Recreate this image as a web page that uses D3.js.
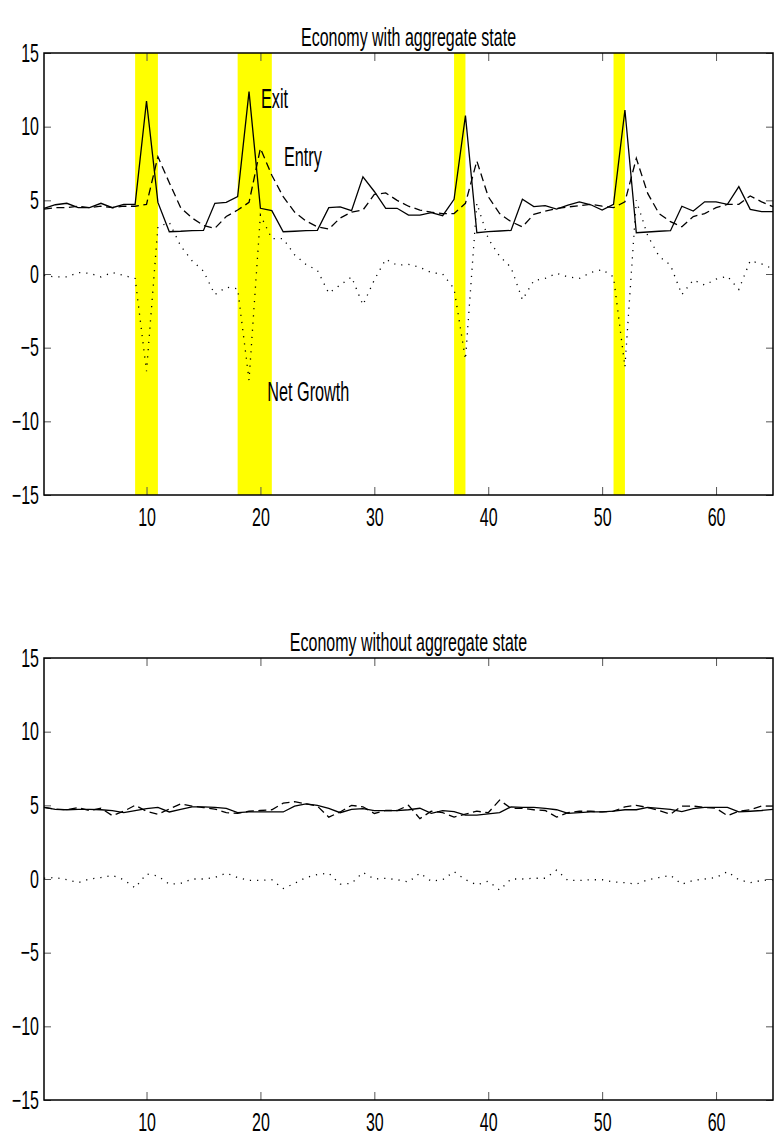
<!DOCTYPE html>
<html>
<head>
<meta charset="utf-8">
<script src="https://cdn.jsdelivr.net/npm/d3@7"></script>
<style>
  body { margin: 0; background: #fff; }
  text { font-family: "Liberation Sans", Arial, sans-serif; fill: #000; }
</style>
</head>
<body>
<div id="chart"></div>
<script>
// periods on the x axis
const periods = d3.range(1, 66);

// Economy with aggregate state
const exitWith = [4.46, 4.7, 4.8, 4.5, 4.5, 4.8, 4.5, 4.73, 4.73, 11.74,
  4.86, 2.87, 2.9, 2.95, 2.96, 4.8, 4.86, 5.25, 12.38, 4.46,
  4.3, 2.87, 2.9, 2.94, 2.96, 4.5, 4.55, 4.3, 6.6, 5.6,
  4.46, 4.46, 4.0, 4.0, 4.16, 3.96, 5.07, 10.75, 2.8, 2.87,
  2.92, 2.96, 5.07, 4.57, 4.64, 4.41, 4.68, 4.9, 4.7, 4.34,
  4.73, 11.13, 2.8, 2.85, 2.9, 2.94, 4.6, 4.27, 4.9, 4.9,
  4.73, 5.93, 4.39, 4.23, 4.23];
const entryWith = [4.4, 4.5, 4.5, 4.6, 4.5, 4.6, 4.5, 4.6, 4.6, 4.73,
  7.96, 6.2, 4.5, 3.8, 3.3, 3.1, 3.9, 4.34, 4.86, 8.53,
  6.7, 5.25, 4.2, 3.6, 3.2, 3.05, 3.8, 4.2, 4.34, 5.4,
  5.5, 5.0, 4.6, 4.34, 4.2, 4.1, 4.1, 4.8, 7.67, 5.25,
  4.1, 3.55, 3.2, 4.05, 4.27, 4.45, 4.55, 4.64, 4.73, 4.6,
  4.5, 4.9, 7.85, 5.47, 4.1, 3.55, 3.2, 3.9, 4.1, 4.5,
  4.73, 4.73, 5.3, 4.9, 4.57];
const netWith = [-0.1, -0.2, -0.2, 0.1, 0.05, -0.2, 0.1, -0.1, -0.3, -6.6,
  3.2, 3.5, 1.9, 0.9, 0.2, -1.4, -0.9, -1.0, -7.2, 4.0,
  2.4, 2.4, 1.3, 0.65, 0.25, -1.3, -0.75, -0.2, -2.1, -0.4,
  1.0, 0.6, 0.65, 0.45, 0.1, 0.0, -1.0, -5.8, 4.8, 2.4,
  1.2, 0.45, -1.75, -0.45, -0.3, 0.05, -0.2, -0.3, 0.1, 0.3,
  -0.2, -6.3, 5.0, 2.6, 1.2, 0.6, -1.4, -0.4, -0.75, -0.35,
  -0.15, -1.05, 0.9, 0.68, 0.35];

// Economy without aggregate state
const exitWithout = [4.86, 4.73, 4.7, 4.73, 4.73, 4.7, 4.64, 4.5, 4.64, 4.77,
  4.86, 4.55, 4.73, 4.9, 4.9, 4.86, 4.8, 4.5, 4.55, 4.55,
  4.55, 4.55, 4.95, 5.1, 5.0, 4.8, 4.5, 4.73, 4.77, 4.64,
  4.64, 4.64, 4.7, 4.8, 4.45, 4.64, 4.57, 4.34, 4.34, 4.42,
  4.5, 4.9, 4.86, 4.86, 4.8, 4.7, 4.45, 4.5, 4.55, 4.55,
  4.6, 4.7, 4.7, 4.86, 4.8, 4.73, 4.57, 4.77, 4.86, 4.86,
  4.86, 4.55, 4.6, 4.65, 4.73];
const entryWithout = [4.86, 4.75, 4.7, 4.85, 4.65, 4.8, 4.3, 4.6, 5.0, 4.6,
  4.4, 4.75, 5.1, 4.95, 4.85, 4.75, 4.5, 4.45, 4.6, 4.65,
  4.7, 5.15, 5.25, 5.1, 4.95, 4.2, 4.55, 5.0, 4.9, 4.45,
  4.65, 4.65, 5.0, 4.1, 4.6, 4.5, 4.2, 4.4, 4.6, 4.5,
  5.35, 4.8, 4.8, 4.7, 4.65, 4.2, 4.5, 4.6, 4.6, 4.55,
  4.6, 4.9, 5.0, 4.85, 4.65, 4.4, 4.95, 4.95, 4.85, 4.8,
  4.3, 4.6, 4.7, 4.95, 4.95];
const netWithout = [0.05, 0.1, -0.05, -0.25, 0.0, 0.1, 0.25, -0.05, -0.6, 0.35,
  0.2, -0.35, -0.3, 0.0, 0.0, 0.1, 0.4, 0.1, -0.1, -0.1,
  -0.05, -0.65, -0.3, 0.1, 0.3, 0.4, -0.35, -0.3, 0.45, 0.0,
  0.05, -0.05, -0.2, 0.4, -0.15, -0.05, 0.5, -0.05, -0.4, -0.15,
  -0.75, 0.0, 0.0, 0.05, 0.05, 0.6, -0.1, -0.1, -0.05, -0.05,
  -0.2, -0.25, -0.35, -0.05, 0.1, 0.25, -0.35, -0.1, 0.0, 0.1,
  0.5, -0.05, -0.25, -0.1, -0.05];

// shaded periods (start, end)
const shadedPeriods = [[9, 11], [18, 21], [37, 38], [51, 52]];

const yTicks = [-15, -10, -5, 0, 5, 10, 15];
const xTicks = [10, 20, 30, 40, 50, 60];

const seriesLabels = [
  {text: "Exit", x: 20.05, y: 11.3},
  {text: "Entry", x: 22.07, y: 7.33},
  {text: "Net Growth", x: 20.6, y: -8.6}
];

const width = 779, height = 1145;
const left = 44, right = 773;
const squeeze = 0.64;   // the original font is rendered narrow

const svg = d3.select("#chart").append("svg")
  .attr("width", width)
  .attr("height", height);

function panel(top, bottom, title, exit, entry, net, shades, labels) {
  const x = d3.scaleLinear([1, 65], [left, right]);
  const y = d3.scaleLinear([-15, 15], [bottom, top]);
  const g = svg.append("g");

  // yellow bands
  g.selectAll("rect.band").data(shades).join("rect")
    .attr("class", "band")
    .attr("x", d => x(d[0]))
    .attr("width", d => x(d[1]) - x(d[0]))
    .attr("y", top)
    .attr("height", bottom - top)
    .attr("fill", "#ffff00");

  const line = d3.line()
    .x((d, i) => x(periods[i]))
    .y(d => y(d));

  g.append("path").attr("d", line(net))
    .attr("fill", "none").attr("stroke", "#000")
    .attr("stroke-width", 1.3).attr("stroke-dasharray", "1.2,6");
  g.append("path").attr("d", line(entry))
    .attr("fill", "none").attr("stroke", "#000")
    .attr("stroke-width", 1.3).attr("stroke-dasharray", "8,4.5");
  g.append("path").attr("d", line(exit))
    .attr("fill", "none").attr("stroke", "#000")
    .attr("stroke-width", 1.3);

  // axes, ticks pointing inwards
  g.append("g")
    .attr("transform", `translate(${left},0)`)
    .call(d3.axisLeft(y).tickValues(yTicks).tickSizeInner(-7).tickSizeOuter(0)
      .tickPadding(5 / squeeze).tickFormat(d3.format("d")))
    .call(a => a.select(".domain").remove());
  g.append("g")
    .attr("transform", `translate(${right},0)`)
    .call(d3.axisRight(y).tickValues(yTicks).tickSizeInner(-7).tickSizeOuter(0).tickFormat(""))
    .call(a => a.select(".domain").remove());
  g.append("g")
    .attr("transform", `translate(0,${bottom})`)
    .call(d3.axisBottom(x).tickValues(xTicks).tickSizeInner(-8).tickSizeOuter(0)
      .tickPadding(13).tickFormat(d3.format("d")))
    .call(a => a.select(".domain").remove());
  g.append("g")
    .attr("transform", `translate(0,${top})`)
    .call(d3.axisTop(x).tickValues(xTicks).tickSizeInner(-8).tickSizeOuter(0).tickFormat(""))
    .call(a => a.select(".domain").remove());

  g.selectAll(".tick line").attr("stroke", "#555").attr("stroke-width", 1);
  g.selectAll(".tick text")
    .attr("font-size", 25)
    .attr("font-family", "Liberation Sans, Arial, sans-serif")
    .attr("transform", `scale(${squeeze},1)`);

  // box
  g.append("rect")
    .attr("x", left).attr("y", top)
    .attr("width", right - left).attr("height", bottom - top)
    .attr("fill", "none").attr("stroke", "#000").attr("stroke-width", 1.5);

  g.append("text")
    .attr("transform", `translate(${(left + right) / 2},${top - 7}) scale(${squeeze},1)`)
    .attr("text-anchor", "middle")
    .attr("font-size", 25)
    .text(title);

  g.selectAll("text.note").data(labels).join("text")
    .attr("class", "note")
    .attr("transform", d => `translate(${x(d.x)},${y(d.y)}) scale(0.58,1)`)
    .attr("font-size", 28)
    .text(d => d.text);
}

panel(53, 495, "Economy with aggregate state",
  exitWith, entryWith, netWith, shadedPeriods, seriesLabels);
panel(658, 1100, "Economy without aggregate state",
  exitWithout, entryWithout, netWithout, [], []);
</script>
</body>
</html>
